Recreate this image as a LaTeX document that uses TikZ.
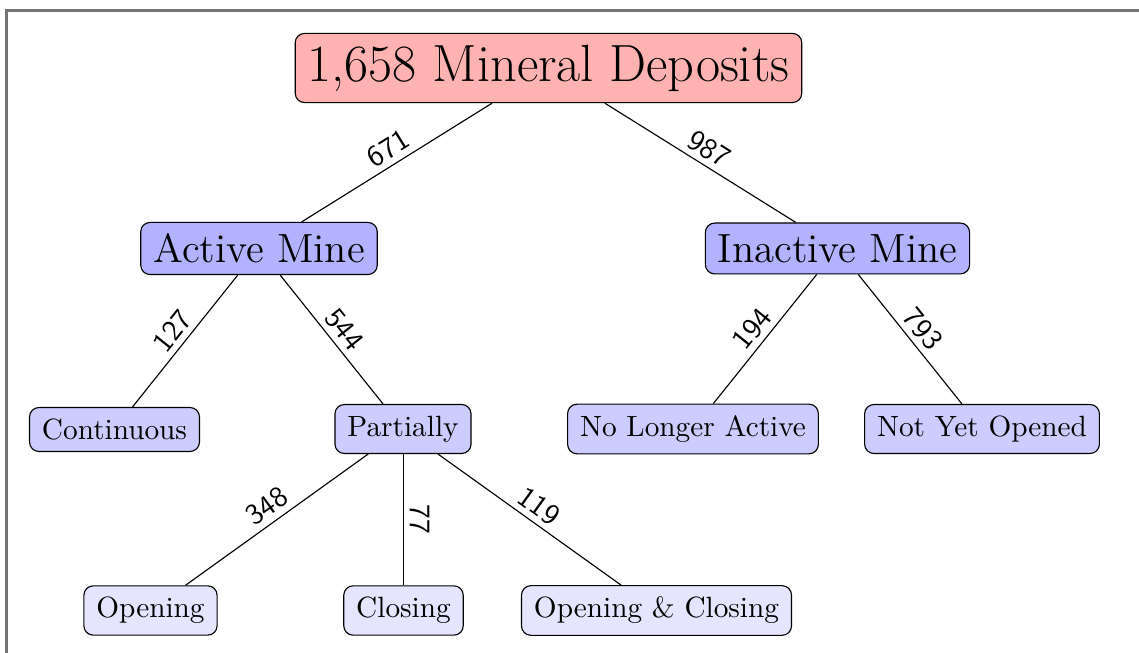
\documentclass[tikz,border=0pt]{standalone}
\usepackage{fontspec}
\begin{document}
\begin{tikzpicture}[x=0.3534pt,y=-0.3534pt,
  box/.style={draw=black,rounded corners=3.3pt,inner xsep=4.4pt,inner ysep=4pt,line width=0.4pt},
  lvl0/.style={box,fill=red!30,font=\fontsize{18.5}{22}\selectfont},
  lvl1/.style={box,fill=blue!30,font=\Large},
  lvl2/.style={box,fill=blue!20,font=\fontsize{10.35}{12.4}\selectfont},
  lvl3/.style={box,fill=blue!10,font=\fontsize{10.35}{12.4}\selectfont},
  edge/.style={line width=0.4pt},
  lbl/.style={midway,above,sloped,font=\fontsize{10.4}{12}\sffamily,inner sep=2pt}]
\useasboundingbox (0,0) rectangle (1139,653);
\draw[black!55,line width=0.75pt] (6.5,653) -- (6.5,10.5) -- (1139,10.5);

\node[lvl0] (root) at (548.5,68) {1,658 Mineral Deposits};
\node[lvl1] (act) at (259,248.5) {Active Mine};
\node[lvl1] (inact) at (837.5,248.5) {Inactive Mine};
\node[lvl2] (cont) at (114.5,429.5) {Continuous};
\node[lvl2] (part) at (403,429) {Partially};
\node[lvl2] (nla) at (693,429) {No Longer Active};
\node[lvl2] (nyo) at (982,429) {Not Yet Opened};
\node[lvl3] (open) at (150.5,610.5) {Opening};
\node[lvl3] (clos) at (403.5,610.5) {Closing};
\node[lvl3] (oc) at (656.5,610.5) {Opening \& Closing};

\draw[edge] (root) -- node[lbl] {671} (act);
\draw[edge] (root) -- node[lbl] {987} (inact);
\draw[edge] (act) -- node[lbl] {127} (cont);
\draw[edge] (act) -- node[lbl] {544} (part);
\draw[edge] (inact) -- node[lbl] {194} (nla);
\draw[edge] (inact) -- node[lbl] {793} (nyo);
\draw[edge] (part) -- node[lbl] {348} (open);
\draw[edge] (part.south -| clos) -- node[lbl] {77} (clos);
\draw[edge] (part) -- node[lbl] {119} (oc);
\end{tikzpicture}
\end{document}
